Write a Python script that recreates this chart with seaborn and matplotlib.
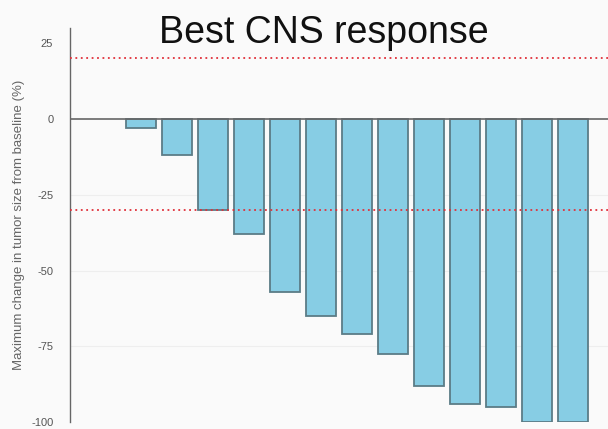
import pandas as pd
import seaborn as sns
import matplotlib.pyplot as plt

# best CNS response per patient (% change from baseline)
patients = [str(i) for i in range(1, 14)]
change = [-3, -12, -30, -38, -57, -65, -71, -77.5, -88, -94, -95, -100, -100]
yticks = [25, 0, -25, -50, -75, -100]

df = pd.DataFrame({'patient': patients, 'change': change})

sns.set_style('white')
plt.rcParams['font.family'] = ['Liberation Sans', 'DejaVu Sans']
fig = plt.figure(figsize=(6.08, 4.29), dpi=100, facecolor='#fafafa')
ax = fig.add_axes([0.115, 0.016, 0.885, 0.919], facecolor='#fafafa')

sns.barplot(data=df, x='patient', y='change', color='#87cde4', saturation=1,
            edgecolor='#5b7c86', linewidth=1.3, width=0.83, ax=ax)

# faint grid at the ticks
for t in [-25, -50, -75]:
    ax.axhline(t, color='#eeeeee', lw=0.8, zorder=0)
ax.axhline(0, color='#666666', lw=1.2, zorder=3)
ax.axhline(20, color='#e0303a', lw=1.3, ls=(0, (1, 2)), zorder=3)
ax.axhline(-30, color='#e0303a', lw=1.3, ls=(0, (1, 2)), zorder=3)

ax.set_xlim(-1.97, 12.97)
ax.set_ylim(-100, 30)
ax.set_yticks(yticks)
ax.set_yticklabels([str(t) for t in yticks], fontsize=8)
ax.tick_params(axis='y', direction='out', length=6, width=0.8, pad=6,
               colors='#777777', labelcolor='#555555')
ax.set_xticks([])
ax.set_xlabel('')
ax.set_ylabel('Maximum change in tumor size from baseline (%)', fontsize=9.5, color='#666666', labelpad=4)
for s in ['top', 'right', 'bottom']:
    ax.spines[s].set_visible(False)
ax.spines['left'].set_color('#666666')
ax.spines['left'].set_linewidth(1)

fig.text(0.532, 0.9, 'Best CNS response', fontsize=27, ha='center', va='baseline', color='#111111')

plt.savefig('out.png', dpi=100, facecolor=fig.get_facecolor())
